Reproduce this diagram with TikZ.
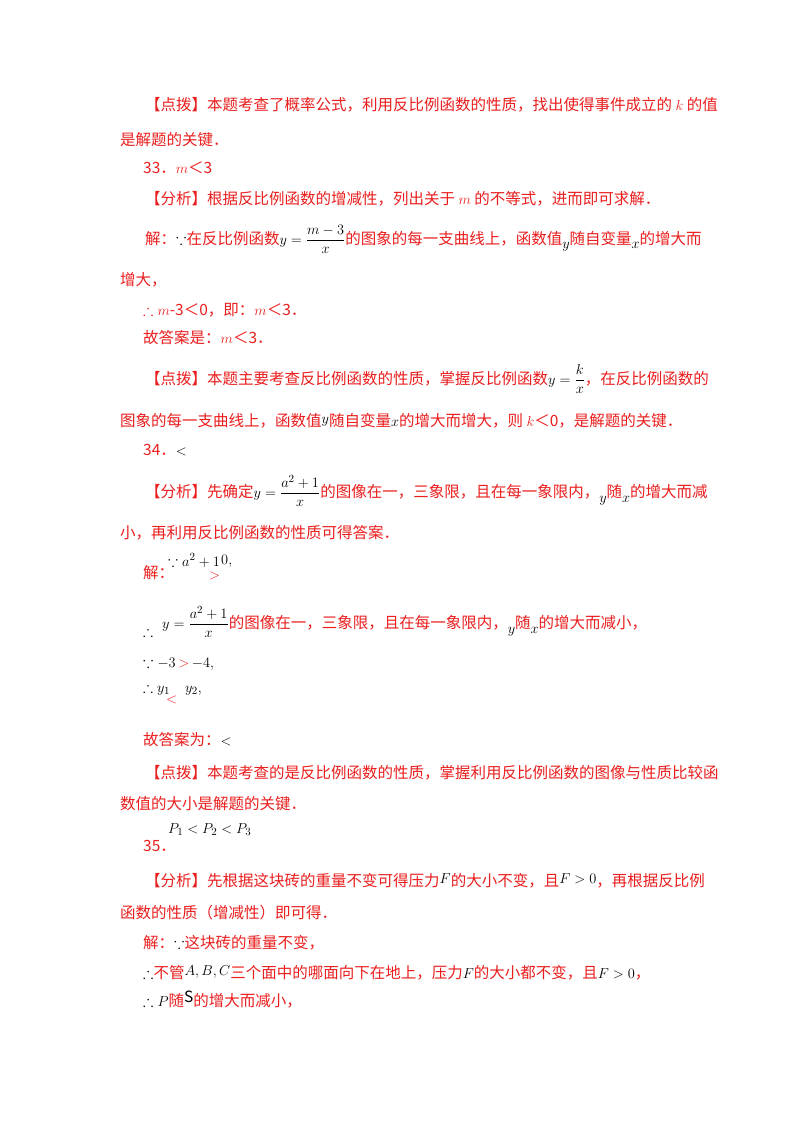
\documentclass[tikz,border=0pt]{standalone}
\usepackage{amsmath,amssymb}
\usepackage{fontspec}
\setmainfont{Noto Sans CJK SC}
\definecolor{rd}{RGB}{235,30,30}
\tikzset{ln/.style={anchor=base west,inner sep=0pt,text=rd,font=\fontsize{15.5}{17}\selectfont},
 mth/.style={anchor=base west,inner sep=0pt,text=black,font=\fontsize{15}{17}\selectfont}}
\newcommand{\bk}[1]{\textcolor{black}{#1}}
\begin{document}
\begin{tikzpicture}[x=1pt,y=-1pt]
\useasboundingbox (0,0) rectangle (800,1132);
\fill[white] (0,0) rectangle (800,1132);
\node[ln] (l1) at (145,110) {【点拨】本题考查了概率公式，利用反比例函数的性质，找出使得事件成立的 $k$ 的值};
\node[ln] (l2) at (120,145) {是解题的关键．};
\node[ln] (l3) at (143,173) {33．$m$＜3};
\node[ln] (l4) at (145,204) {【分析】根据反比例函数的增减性，列出关于 $m$ 的不等式，进而即可求解．};
\node[ln] (l5) at (145,244) {解：\bk{$\because$}在反比例函数\bk{$y=\dfrac{m-3}{x}$}的图象的每一支曲线上，函数值\raisebox{-4pt}{\bk{$y$}}随自变量\raisebox{-4pt}{\bk{$x$}}的增大而};
\node[ln] (l6) at (120,285) {增大，};
\node[ln] (l7) at (143,315) {$\therefore m$-3＜0，即：$m$＜3．};
\node[ln] (l8) at (143,343) {故答案是：$m$＜3．};
\node[ln] (l9) at (145,384) {【点拨】本题主要考查反比例函数的性质，掌握反比例函数\bk{$y=\dfrac{k}{x}$}，在反比例函数的};
\node[ln] (l10) at (120,426) {图象的每一支曲线上，函数值\raisebox{3pt}{\bk{$y$}}随自变量\bk{$x$}的增大而增大，则 $k$＜0，是解题的关键．};
\node[ln] (l11) at (143,455) {34．\bk{$<$}};
\node[ln] (l12) at (145,497) {【分析】先确定\bk{$y=\dfrac{a^2+1}{x}$}的图像在一，三象限，且在每一象限内，\raisebox{-5pt}{\bk{$y$}}随\raisebox{-5pt}{\bk{$x$}}的增大而减};
\node[ln] (l13) at (120,538) {小，再利用反比例函数的性质可得答案．};
\node[ln] (l14) at (143,578) {解：};
\node[mth] (l14b) at (168,566) {$\because a^2+1$};
\node[ln] (l14c) at (209,579) {$>$};
\node[mth] (l14d) at (221,564) {$0,$};
\node[mth] (l15a) at (143,636) {$\therefore$};
\node[ln] (l15) at (162,628) {\bk{$y=\dfrac{a^2+1}{x}$}的图像在一，三象限，且在每一象限内，\raisebox{-5pt}{\bk{$y$}}随\raisebox{-5pt}{\bk{$x$}}的增大而减小，};
\node[ln] (l16) at (143,667) {\bk{$\because -3$}\,$>$\,\bk{$-4,$}};
\node[mth] (l17) at (143,692) {$\therefore y_1\quad y_2,$};
\node[ln] (l17b) at (166,703) {$<$};
\node[ln] (l18) at (143,745) {故答案为：\bk{$<$}};
\node[ln] (l19) at (145,778) {【点拨】本题考查的是反比例函数的性质，掌握利用反比例函数的图像与性质比较函};
\node[ln] (l20) at (120,809) {数值的大小是解题的关键．};
\node[mth] (l21b) at (168,833) {$P_1<P_2<P_3$};
\node[ln] (l21) at (143,851) {35．};
\node[ln] (l22) at (145,886) {【分析】先根据这块砖的重量不变可得压力\raisebox{3pt}{\bk{$F$}}的大小不变，且\raisebox{3pt}{\bk{$F>0$}}，再根据反比例};
\node[ln] (l23) at (120,918) {函数的性质（增减性）即可得．};
\node[ln] (l24) at (143,948) {解：\bk{$\because$}这块砖的重量不变，};
\node[ln] (l25) at (143,978) {\bk{$\therefore$}不管\raisebox{3pt}{\bk{$A,B,C$}}三个面中的哪面向下在地上，压力\bk{$F$}的大小都不变，且\bk{$F>0$}，};
\node[ln] (l26) at (143,1006) {\bk{$\therefore P$}随\raisebox{4pt}{\bk{$\mathrm{S}$}}的增大而减小，};
\end{tikzpicture}
\end{document}
